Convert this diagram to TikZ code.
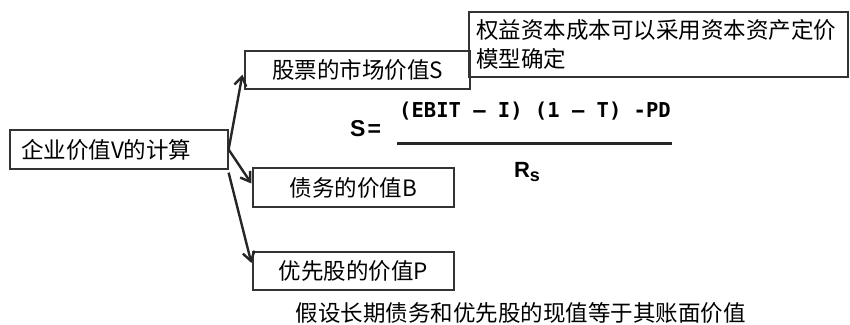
\documentclass[tikz,border=0pt]{standalone}
\usepackage{fontspec}
\newfontfamily\cjk{Noto Sans CJK SC}
\newfontfamily\monofont{DejaVu Sans Mono}
\newfontfamily\rsfont{Liberation Sans}
\usetikzlibrary{arrows.meta,positioning}
\tikzset{
  valbox/.style={draw=black!80,line width=1.2pt,inner sep=0pt,minimum height=38pt,
    font=\cjk\fontsize{22.5}{29}\selectfont},
  link/.style={draw=black!85,line width=2.4pt,-{Straight Barb[length=9pt,width=12pt]}}
}
\begin{document}
\begin{tikzpicture}[x=1pt,y=-1pt]
\useasboundingbox (0,0) rectangle (850,324);
% the value boxes
\node[valbox,minimum height=39pt,text width=196pt,inner xsep=11pt,align=left] (firm) at (119,149.5) {企业价值V的计算};
\node[valbox,minimum width=225pt] (stock) at (357.5,70) {股票的市场价值S};
\node[valbox,minimum width=201pt,minimum height=39pt] (debt) at (353.5,187.5) {债务的价值B};
\node[valbox,minimum width=201pt] (pref) at (353.5,271) {优先股的价值P};
% the note on the cost of equity
\node[valbox,minimum width=379pt,minimum height=65pt,text width=365pt,inner xsep=7pt,align=left] (capm) at (658.5,44.5) {权益资本成本可以采用资本资产定价\\模型确定};
% the arrows
\draw[link] (firm.east) -- ([shift={(-2,-15)}]stock.south west);
\draw[link] (firm.east) -- ([shift={(-1,-4)}]debt.west);
\draw[link] ([yshift=-3pt]firm.south east) -- ([shift={(-1,-8)}]pref.west);
% the formula for S
\node[font=\rsfont\bfseries\fontsize{23}{23}\selectfont,anchor=west,inner sep=0pt] (seq) at (350,129) {S\kern2pt=};
\node[font=\monofont\bfseries\fontsize{20.5}{20.5}\selectfont] (num) at (535,111) {(EBIT – I) (1 – T) -PD};
\coordinate (barl) at (397,143);
\coordinate (barr) at (672,143);
\draw[line width=3pt,black!85] (barl) -- (barr);
\node[font=\rsfont\bfseries\fontsize{22}{22}\selectfont] (rs) at (527,172) {R\raisebox{-4pt}{\fontsize{18}{18}\selectfont s}};
% the assumption below
\node[font=\cjk\fontsize{22.5}{29}\selectfont] (assume) at (520.5,313) {假设长期债务和优先股的现值等于其账面价值};
\end{tikzpicture}
\end{document}
